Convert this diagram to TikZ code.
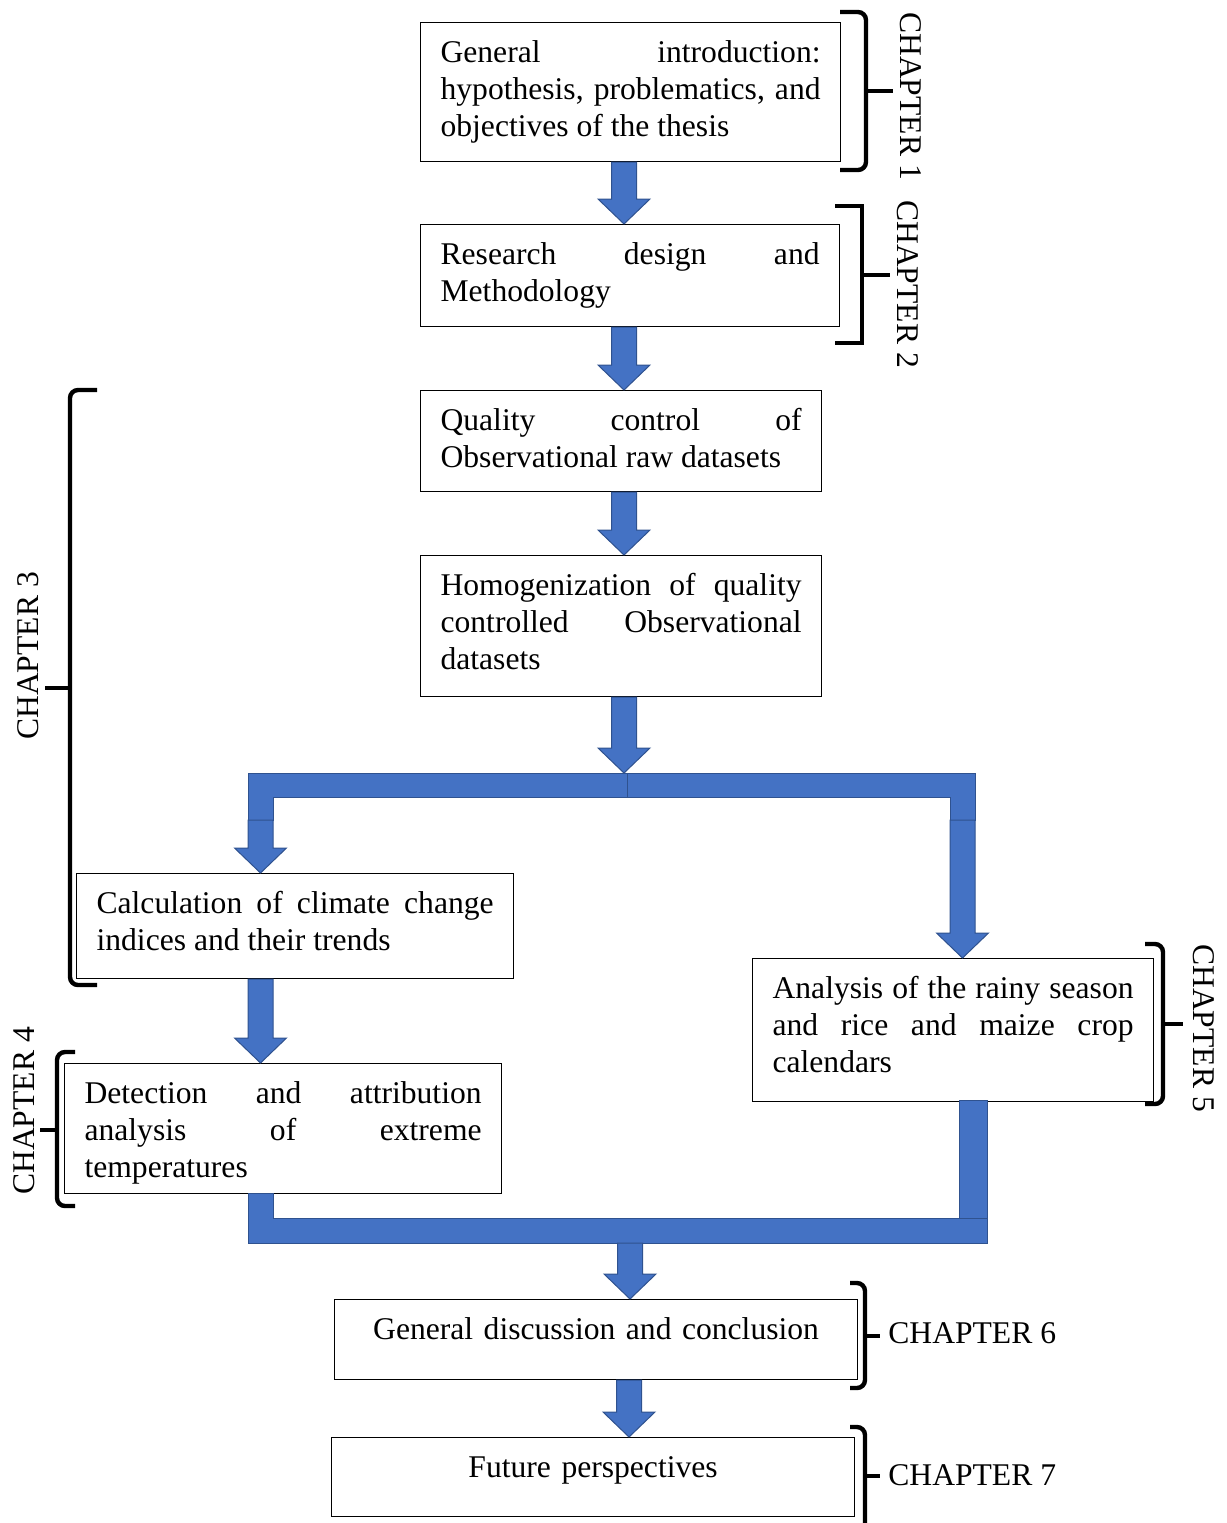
\documentclass[tikz,border=0pt]{standalone}
\usepackage{fontspec}
\setmainfont{Liberation Serif}
\usetikzlibrary{calc}
\definecolor{arrowblue}{HTML}{4472C4}
\definecolor{arrowedge}{HTML}{2F528F}
\hyphenpenalty=10000
\tolerance=10000

% Blockpfeil nach unten
\newcommand{\blockarrow}[2]{%
  \filldraw[blockfill] let \p1=(#1), \p2=(#2) in
    (\x1-6.25pt,\y1) -- (\x1+6.25pt,\y1) -- (\x1+6.25pt,\y2+12.5pt)
    -- (\x1+13pt,\y2+12.5pt) -- (\x1,\y2) -- (\x1-13pt,\y2+12.5pt)
    -- (\x1-6.25pt,\y2+12.5pt) -- cycle;}

\begin{document}
\begin{tikzpicture}[x=0.5pt, y=-0.5pt]
  \useasboundingbox (0,0) rectangle (1227,1523);

  \tikzstyle{box}=[draw, line width=0.6pt, anchor=north west, inner xsep=10pt, inner ysep=8pt, text height=12pt, align=justify, font=\fontsize{15.8}{18.5}\selectfont]
  \tikzstyle{chap}=[inner sep=0pt, font=\fontsize{15.8}{18.5}\selectfont]
  \tikzstyle{chapbrace}=[line width=2.2pt, rounded corners=4pt]
  \tikzstyle{blockfill}=[fill=arrowblue, draw=arrowedge, line width=0.5pt]

  % Kaesten
  \node[box, text width=190pt, text depth=41.5pt] (intro) at (420,22) {General introduction:\linebreak hypothesis, problematics, and\linebreak objectives of the thesis};
  \node[box, text width=189.5pt, text depth=23pt] (research) at (420,224) {Research design and\linebreak Methodology};
  \node[box, text width=180.5pt, text depth=22.5pt] (quality) at (420,390) {Quality control of\linebreak Observational raw datasets};
  \node[box, text width=180.5pt, text depth=42.5pt] (homog) at (420,555) {Homogenization of quality\linebreak controlled Observational\linebreak datasets};
  \node[box, text width=198.5pt, text depth=24.5pt] (calc) at (76,873) {Calculation of climate change\linebreak indices and their trends};
  \node[box, text width=198.5pt, text depth=37pt] (detect) at (64,1063) {Detection and attribution\linebreak analysis of extreme\linebreak temperatures};
  \node[box, text width=180.5pt, text depth=43.5pt] (rainy) at (752,958) {Analysis of the rainy season\linebreak and rice and maize crop\linebreak calendars};
  \node[box, align=center, text width=241.5pt, text depth=12pt] (discussion) at (334,1299) {General discussion and conclusion};
  \node[box, align=center, text width=241.5pt, text depth=11.5pt] (future) at (331,1437) {Future perspectives};

  % Kapitel
  \node[chap, rotate=-90] (ch1) at (911,96) {CHAPTER 1};
  \node[chap, rotate=-90] (ch2) at (908,284) {CHAPTER 2};
  \node[chap, rotate=90] (ch3) at (28,656) {CHAPTER 3};
  \node[chap, rotate=90] (ch4) at (24,1111) {CHAPTER 4};
  \node[chap, rotate=-90] (ch5) at (1204,1028) {CHAPTER 5};
  \node[chap, anchor=west] (ch6) at (888,1333) {CHAPTER 6};
  \node[chap, anchor=west] (ch7) at (888,1475) {CHAPTER 7};

  % Klammern
  \draw[chapbrace] (840,12) -- (866,12) -- (866,170) -- (840,170);
  \draw[chapbrace] (866,91) -- (893,91);
  \draw[chapbrace, rounded corners=0pt] (835,206) -- (862,206) -- (862,343) -- (835,343);
  \draw[chapbrace] (862,275) -- (890,275);
  \draw[chapbrace] (97,390) -- (70,390) -- (70,985) -- (97,985);
  \draw[chapbrace] (70,688) -- (45,688);
  \draw[chapbrace] (75,1052) -- (57,1052) -- (57,1206) -- (75,1206);
  \draw[chapbrace] (57,1130) -- (40,1130);
  \draw[chapbrace] (1145,944) -- (1163,944) -- (1163,1104) -- (1145,1104);
  \draw[chapbrace] (1163,1024) -- (1183,1024);
  \draw[chapbrace] (850,1283) -- (865,1283) -- (865,1388) -- (850,1388);
  \draw[chapbrace] (865,1336) -- (880,1336);
  \draw[chapbrace] (850,1427) -- (865,1427) -- (865,1530);
  \draw[chapbrace] (865,1476) -- (880,1476);

  % Pfeile
  \coordinate (spine) at (624,0);
  \coordinate (spinelow) at (629,0);
  \coordinate (split) at (627,773);
  \coordinate (lbranch) at (260.5,820);
  \coordinate (rbranch) at (962.5,820);
  \coordinate (merge) at (630,1243);

  \blockarrow{intro.south -| spine}{research.north -| spine}
  \blockarrow{research.south -| spine}{quality.north -| spine}
  \blockarrow{quality.south -| spine}{homog.north -| spine}

  % Verzweigung
  \filldraw[blockfill] (split) -- (248,773) -- (248,820) -- (273,820) -- (273,797) -- (627,797) -- cycle;
  \filldraw[blockfill] (split) -- (975,773) -- (975,820) -- (950,820) -- (950,797) -- (627,797) -- cycle;
  \blockarrow{homog.south -| spine}{split -| spine}
  \blockarrow{lbranch}{calc.north -| lbranch}
  \blockarrow{rbranch}{rainy.north -| rbranch}
  \blockarrow{calc.south -| lbranch}{detect.north -| lbranch}

  % Zusammenfuehrung
  \filldraw[blockfill] (248,1193) -- (273,1193) -- (273,1218) -- (987,1218) -- (987,1243) -- (248,1243) -- cycle;
  \filldraw[blockfill] (959,1100) rectangle (987,1218);
  \blockarrow{merge}{discussion.north -| merge}
  \blockarrow{discussion.south -| spinelow}{future.north -| spinelow}
\end{tikzpicture}
\end{document}
